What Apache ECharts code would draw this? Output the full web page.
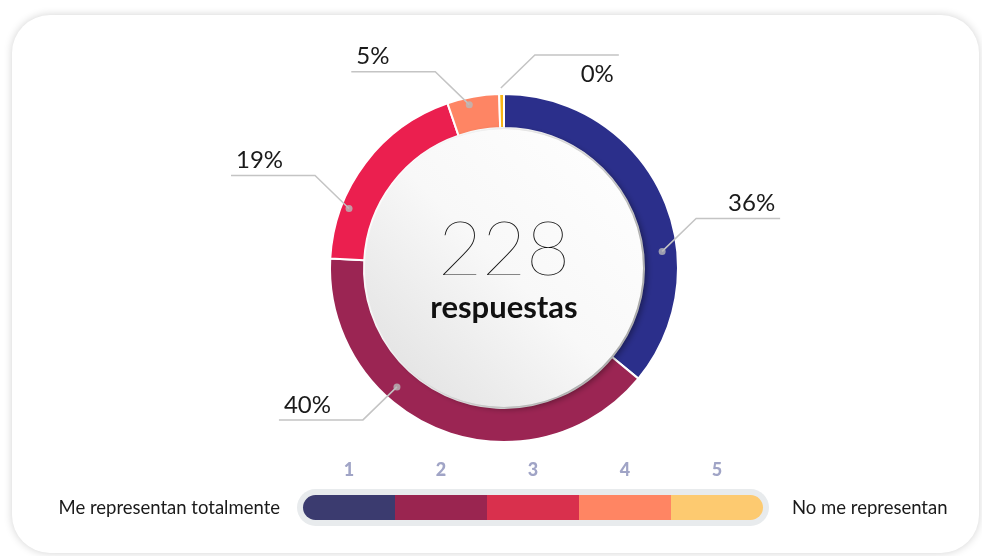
<!DOCTYPE html>
<html>
<head>
<meta charset="utf-8">
<title>respuestas</title>
<script src="https://cdn.jsdelivr.net/npm/echarts@6/dist/echarts.min.js"></script>
<style>
html, body { margin: 0; padding: 0; background: #fff; }
#card {
    position: absolute; left: 12px; top: 15px; width: 967px; height: 538px;
    border-radius: 38px; background: #fff;
    box-shadow: 0 0 9px rgba(0, 0, 0, 0.18);
}
#main { position: absolute; left: 0; top: 0; width: 982px; height: 556px; }
</style>
</head>
<body>
<div id="card"></div>
<div id="main"></div>
<script>
// datos
var categories = ['1', '2', '3', '4', '5'];
var answerCounts = [82, 91, 43, 11, 1];     // 228 respuestas
var totalLabel = 'respuestas';
var scaleLeftText = 'Me representan totalmente';
var scaleRightText = 'No me representan';

// colores
var pieColors = ['#2b2f8b', '#9b2553', '#eb1f4f', '#fe8564', '#f9b514'];
var scaleColors = ['#3b3b6f', '#9a2550', '#d9304d', '#ff8563', '#fdca70'];

// posicion de las etiquetas: [angulo, radio, lado x, lado y, texto debajo]
var labelAnchors = [
    [84, 159, 1, -1, false],
    [222, 160, -1, 1, false],
    [291, 166, -1, -1, false],
    [348, 167, -1, -1, false],
    [359, 180, 1, -1, true]
];

var cx = 504, cy = 268;
var total = answerCounts.reduce(function (s, v) { return s + v; }, 0);

var myChart = echarts.init(document.getElementById('main'));

function pieData(transparent) {
    var arr = [];
    for (var i = 0; i < answerCounts.length; i++) {
        arr.push({
            name: categories[i],
            value: answerCounts[i],
            itemStyle: { color: transparent ? 'rgba(0,0,0,0)' : pieColors[i] }
        });
    }
    return arr;
}

function scaleData() {
    var arr = [];
    for (var i = 0; i < categories.length; i++) {
        var r = 0;
        if (i == 0) r = [13, 0, 0, 13];
        if (i == categories.length - 1) r = [0, 13, 13, 0];
        arr.push({ value: 1, itemStyle: { color: scaleColors[i], borderRadius: r } });
    }
    return arr;
}

function dotData() {
    var arr = [];
    for (var i = 0; i < labelAnchors.length; i++) {
        arr.push([labelAnchors[i][1], labelAnchors[i][0]]);
    }
    return arr;
}

var option = {
    animation: false,
    textStyle: { fontFamily: 'Lato' },
    polar: { center: [cx, cy], radius: 174 },
    angleAxis: {
        type: 'value', min: 0, max: 360, startAngle: 90, clockwise: true,
        axisLine: { show: false }, axisTick: { show: false },
        axisLabel: { show: false }, splitLine: { show: false }
    },
    radiusAxis: {
        type: 'value', min: 0, max: 174,
        axisLine: { show: false }, axisTick: { show: false },
        axisLabel: { show: false }, splitLine: { show: false }
    },
    grid: { left: 303, top: 495, width: 460, height: 25 },
    xAxis: {
        type: 'category', data: categories, position: 'top',
        axisLine: { show: false }, axisTick: { show: false },
        axisLabel: { color: '#a0a4c6', fontWeight: 900, fontSize: 18, margin: 16, fontFamily: 'Lato' }
    },
    yAxis: { type: 'value', min: 0, max: 1, show: false },
    graphic: [
        {
            type: 'rect', z: -1,
            shape: { x: 297, y: 489, width: 472, height: 37, r: 18.5 },
            style: { fill: '#e8ebed' }
        },
        {
            type: 'text', x: 280, y: 508,
            style: { text: scaleLeftText, fill: '#1a1a1a', font: '18.5px Lato', align: 'right', verticalAlign: 'middle' }
        },
        {
            type: 'text', x: 792, y: 508,
            style: { text: scaleRightText, fill: '#1a1a1a', font: '18.5px Lato', align: 'left', verticalAlign: 'middle' }
        }
    ],
    series: [
        {
            // anillo
            type: 'pie',
            center: [cx, cy],
            radius: [140, 174],
            startAngle: 90,
            clockwise: true,
            silent: true,
            itemStyle: { borderColor: '#fff', borderWidth: 2 },
            label: { show: false },
            labelLine: { show: false },
            data: pieData(false)
        },
        {
            // circulo central
            type: 'pie',
            center: [cx, cy],
            radius: [0, 139],
            z: 3,
            silent: true,
            itemStyle: {
                color: new echarts.graphic.LinearGradient(1, 0, 0, 1, [
                    { offset: 0, color: '#ffffff' },
                    { offset: 0.5, color: '#f8f8f8' },
                    { offset: 1, color: '#dedede' }
                ]),
                shadowColor: 'rgba(0,0,0,0.38)',
                shadowBlur: 6,
                shadowOffsetX: 4,
                shadowOffsetY: 2
            },
            label: {
                show: true, position: 'center',
                formatter: '{n|' + total + '}\n{t|' + totalLabel + '}',
                rich: {
                    n: { fontFamily: 'Lato', fontWeight: 200, fontSize: 76, color: '#111', lineHeight: 80 },
                    t: { fontFamily: 'Lato', fontWeight: 'bold', fontSize: 31, color: '#111', lineHeight: 36 }
                }
            },
            labelLine: { show: false },
            data: [{ value: 1, name: totalLabel }]
        },
        {
            // etiquetas (por encima del anillo)
            type: 'pie',
            center: [cx, cy],
            radius: [140, 174],
            startAngle: 90,
            clockwise: true,
            z: 4,
            silent: true,
            avoidLabelOverlap: false,
            itemStyle: { borderWidth: 0 },
            label: {
                show: true,
                formatter: function (p) { return Math.round(p.percent) + '%'; },
                fontSize: 24, color: '#1a1a1a', fontFamily: 'Lato'
            },
            labelLine: { show: true, lineStyle: { color: '#c4c4c4', width: 1.5 } },
            labelLayout: function (params) {
                var a = labelAnchors[params.dataIndex];
                var rad = a[0] * Math.PI / 180;
                var x0 = cx + a[1] * Math.sin(rad), y0 = cy - a[1] * Math.cos(rad);
                var x1 = x0 + a[2] * 34, y1 = y0 + a[3] * 33;
                var x2 = x1 + a[2] * 84;
                return {
                    x: x2 - a[2] * 5,
                    y: a[4] ? y1 + 7 : y1 - 3,
                    align: a[2] > 0 ? 'right' : 'left',
                    verticalAlign: a[4] ? 'top' : 'bottom',
                    labelLinePoints: [[x0, y0], [x1, y1], [x2, y1]]
                };
            },
            data: pieData(true)
        },
        {
            type: 'scatter',
            coordinateSystem: 'polar',
            z: 5,
            silent: true,
            symbolSize: 7,
            itemStyle: { color: '#b9b9b9' },
            data: dotData()
        },
        {
            type: 'bar',
            barCategoryGap: '0%',
            silent: true,
            data: scaleData()
        }
    ]
};
myChart.setOption(option);
</script>
</body>
</html>
